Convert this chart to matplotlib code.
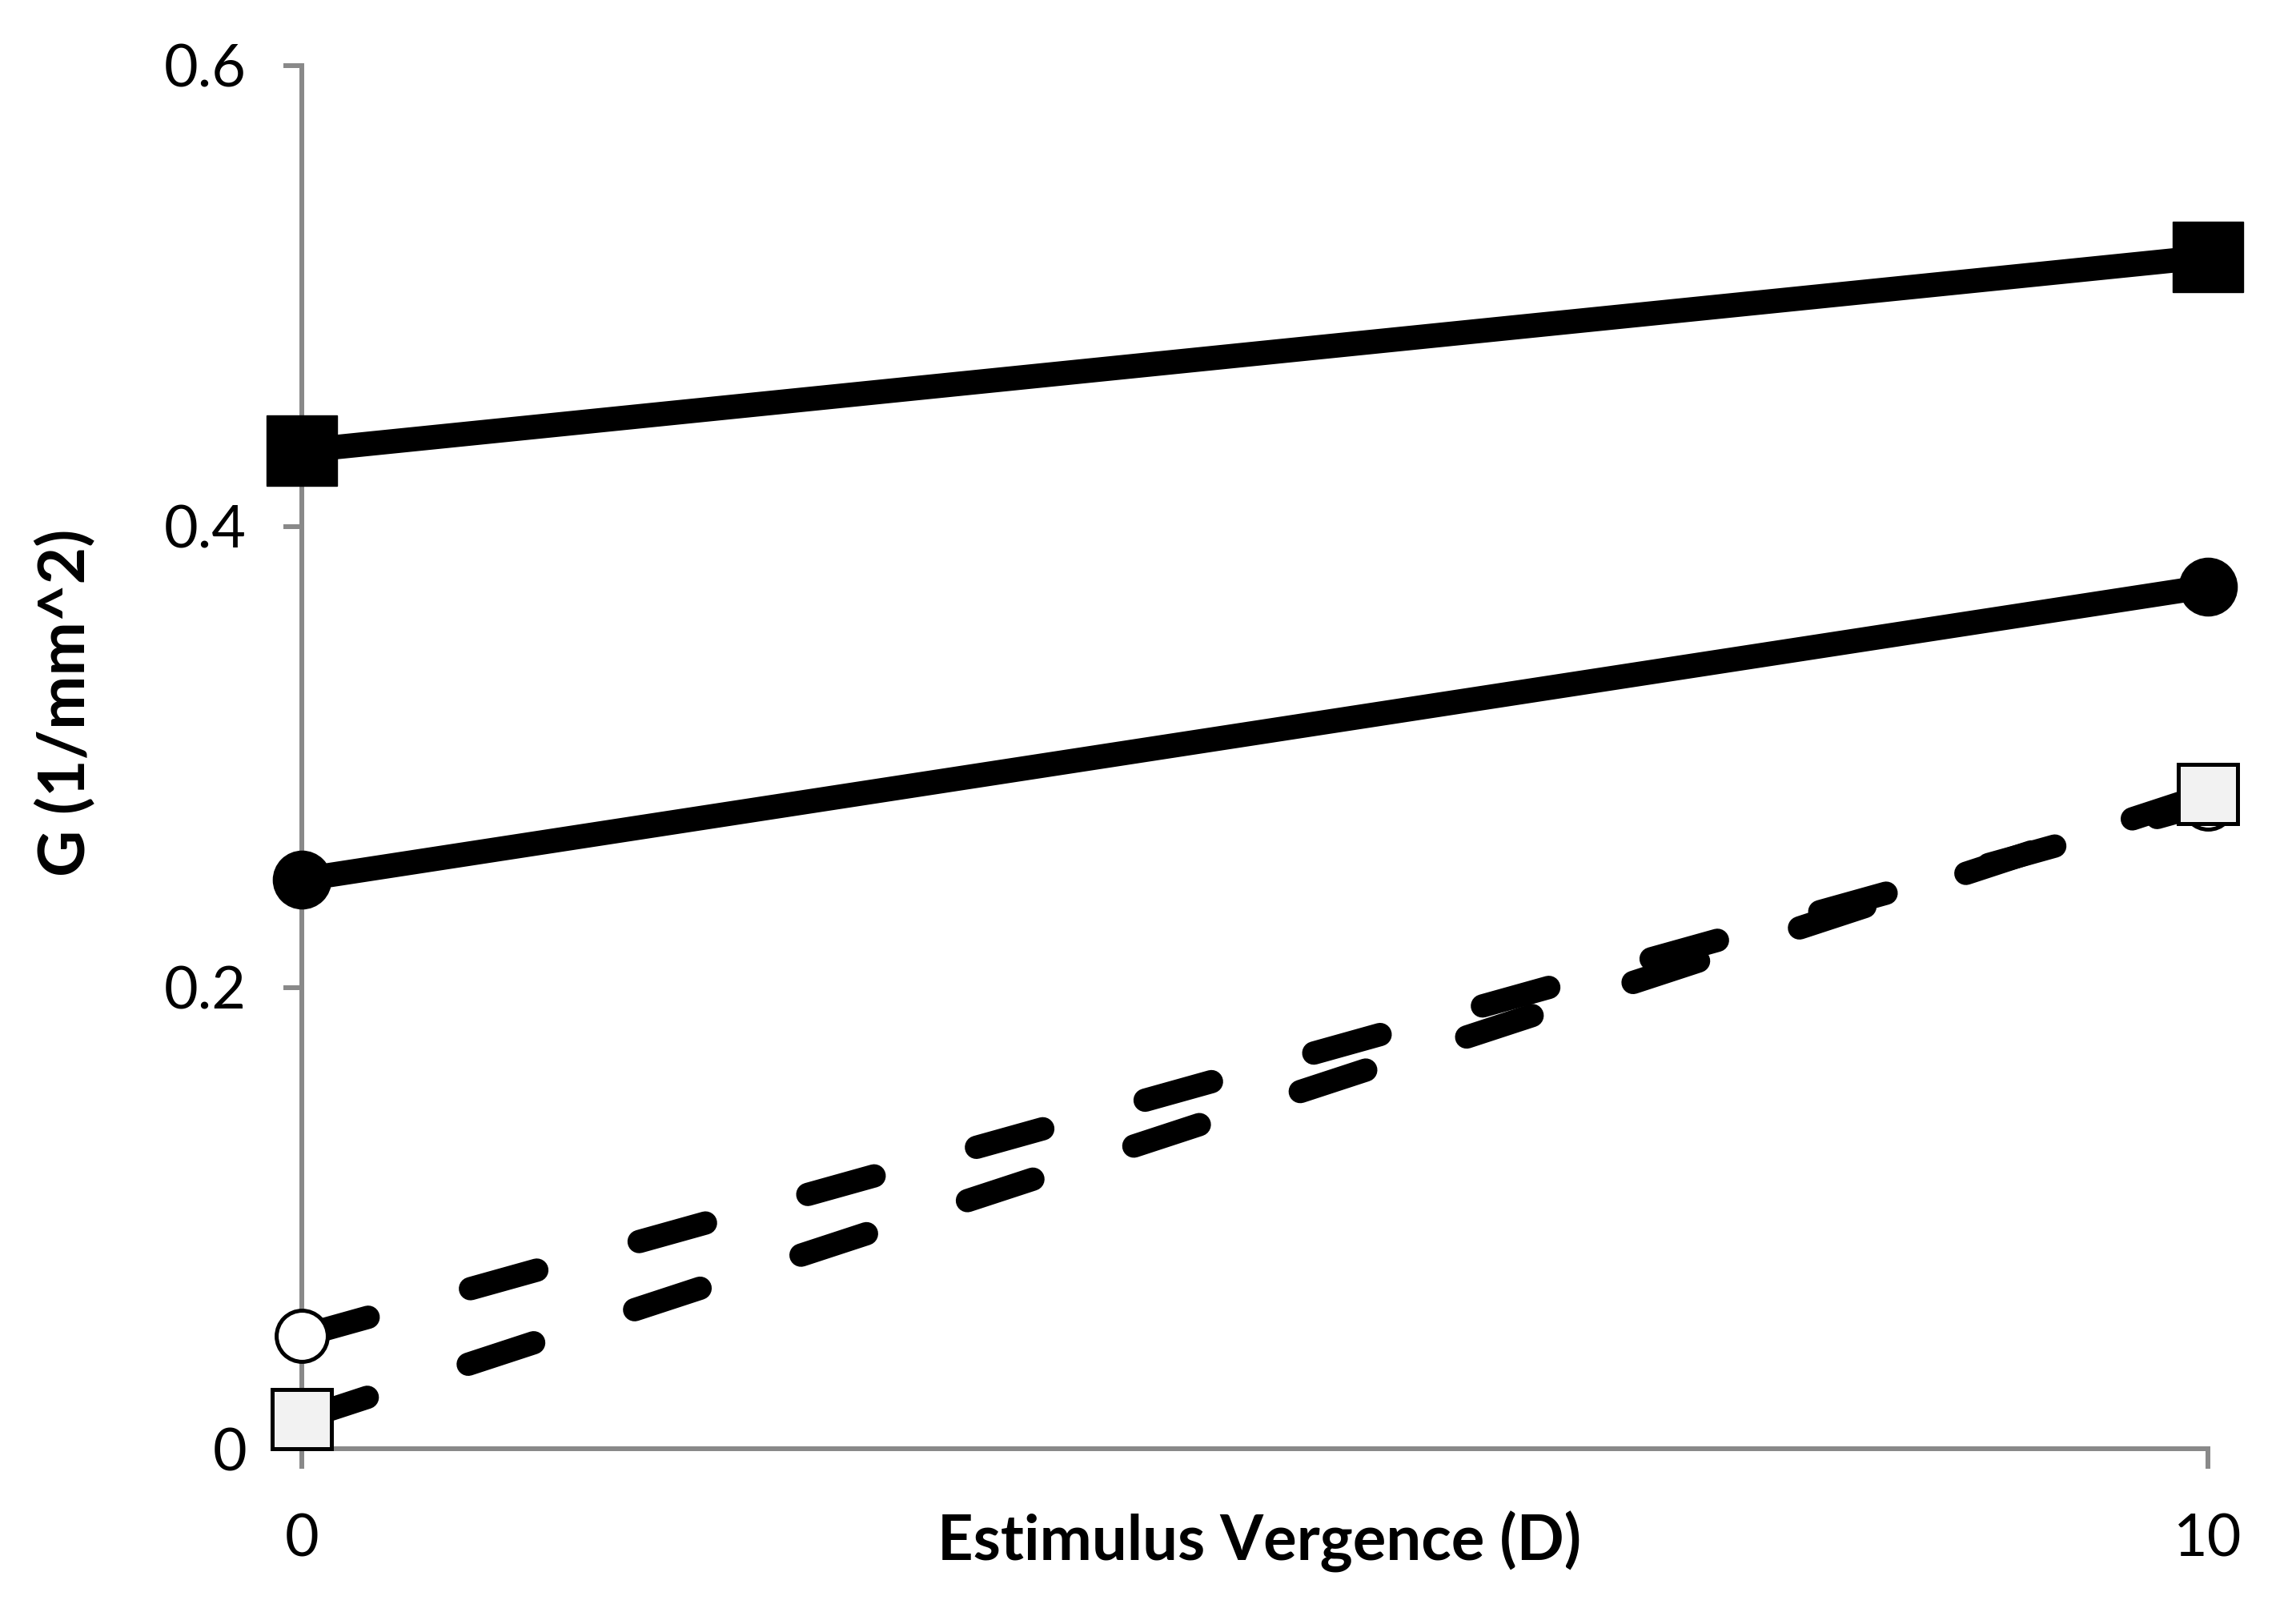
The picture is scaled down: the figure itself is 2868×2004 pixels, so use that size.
import matplotlib
matplotlib.use("Agg")
import matplotlib.pyplot as plt

# stimulus vergence (D)
vergence = [0, 10]

# G (1/mm^2) for the four series
g_filled_square = [0.433, 0.517]
g_filled_circle = [0.247, 0.374]
g_open_circle = [0.049, 0.280]
g_grey_square = [0.013, 0.284]

y_ticks = [0, 0.2, 0.4, 0.6]
y_tick_labels = ["0", "0.2", "0.4", "0.6"]
x_ticks = [0, 10]
x_tick_labels = ["0", "10"]

plt.rcParams['font.family'] = ['Lato', 'DejaVu Sans']

fig = plt.figure(figsize=(28.68, 20.04), dpi=100)
ax = fig.add_axes([0.13145, 0.0968, 0.8302, 0.8623])

axis_grey = '#898989'
lw = 22
dash = (0, (2.95, 4.55))

ax.plot(vergence, g_filled_square, color='black', lw=lw, solid_capstyle='butt',
        marker='s', markersize=63, markerfacecolor='black', markeredgecolor='black',
        markeredgewidth=1, clip_on=False, zorder=3)
ax.plot(vergence, g_filled_circle, color='black', lw=lw, solid_capstyle='butt',
        marker='o', markersize=52, markerfacecolor='black', markeredgecolor='black',
        markeredgewidth=1, clip_on=False, zorder=3)
ax.plot(vergence, g_open_circle, color='black', lw=21, linestyle=dash,
        dash_capstyle='round', marker='o', markersize=46,
        markerfacecolor='white', markeredgecolor='black', markeredgewidth=3.6,
        clip_on=False, zorder=4)
ax.plot(vergence, g_grey_square, color='black', lw=21, linestyle=dash,
        dash_capstyle='round', marker='s', markersize=53,
        markerfacecolor='#f2f2f2', markeredgecolor='black', markeredgewidth=3.6,
        clip_on=False, zorder=5)

ax.set_xlim(0, 10)
ax.set_ylim(0, 0.6)

for side in ['top', 'right']:
    ax.spines[side].set_visible(False)
for side in ['left', 'bottom']:
    ax.spines[side].set_color(axis_grey)
    ax.spines[side].set_linewidth(4.3)
    ax.spines[side].set_zorder(1)

ax.set_yticks(y_ticks)
ax.set_yticklabels(y_tick_labels)
ax.set_xticks(x_ticks)
ax.set_xticklabels(x_tick_labels)
ax.tick_params(axis='y', direction='out', length=16.5, width=4.3, color=axis_grey,
               pad=33, labelsize=53)
ax.tick_params(axis='x', direction='out', length=18, width=4.3, color=axis_grey,
               pad=40, labelsize=53)

fig.text(0.5485, 0.0274, "Estimulus Vergence (D)", ha='center', va='baseline',
         fontsize=56, fontweight='bold')
fig.text(0.0286, 0.5619, "G (1/mm^2)", ha='center', va='center', rotation=90,
         fontsize=58, fontweight='bold')

fig.savefig("out.png", dpi=100)
